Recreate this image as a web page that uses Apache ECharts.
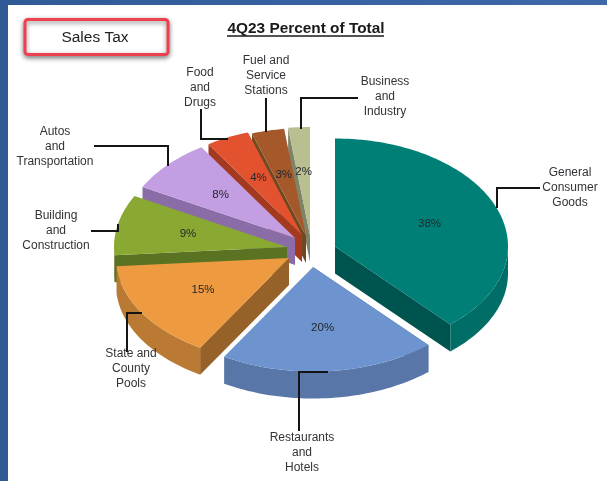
<!DOCTYPE html>
<html>
<head>
<meta charset="utf-8">
<style>html,body{margin:0;padding:0;background:#fff}#chart{width:607px;height:481px}</style>
<script src="https://cdn.jsdelivr.net/npm/echarts@6/dist/echarts.min.js"></script>
</head>
<body>
<div id="chart"></div>
<script>
// Sales tax share by business category, clockwise from twelve o'clock.
const categories = [
  'General\nConsumer\nGoods',
  'Restaurants\nand\nHotels',
  'State and\nCounty\nPools',
  'Building\nand\nConstruction',
  'Autos\nand\nTransportation',
  'Food\nand\nDrugs',
  'Fuel and\nService\nStations',
  'Business\nand\nIndustry'
];
const percents = [38, 20, 15, 9, 8, 4, 3, 2];

// Slice palette: lid, cut face, outer wall.
const lidColors  = ['#007f77', '#6d94cf', '#ee9a40', '#8aa932', '#c39ee2', '#e2522f', '#a5582a', '#b9bf90'];
const cutColors  = ['#00544f', '#566f9e', '#96622a', '#5a7322', '#8a6da6', '#a33a20', '#6f4a20', '#7f8468'];
const wallColors = ['#006d67', '#5876a8', '#bb7a33', '#5a7322', '#8a6da6', '#a33a20', '#6f4a20', '#7f8468'];

// Elliptical pie geometry in pixels; the near half of the rim is slightly flatter.
const RX = 173, RY_BACK = 108, RY_FRONT = 104.5, DEPTH = 27;
const explodedCentres = [[335, 246.5], [313, 267], [289, 258], [287, 247], [295, 238], [302, 235], [306, 236], [310, 235]];
const LABEL_RADIUS = 0.585;

// Category captions and their leader lines.
const captionCentres = [[570, 188], [302, 453], [131, 369], [56, 231], [55, 147], [200, 88], [266, 76], [385, 97]];
const leaders = [
  [[540, 188], [497, 188], [497, 208]],
  [[299, 431], [299, 372], [328, 372]],
  [[127, 352], [127, 313], [142, 313]],
  [[91, 231], [118, 231], [118, 224]],
  [[94, 146], [168, 146], [168, 166]],
  [[201, 109], [201, 139], [228, 139]],
  [[266, 98], [266, 132]],
  [[358, 98], [301, 98], [301, 129]]
];

const total = percents.reduce((a, b) => a + b, 0);
const startAngles = [];
percents.reduce((acc, v, i) => { startAngles[i] = acc / total * 360; return acc + v; }, 0);

function rimPoint(c, deg, drop) {
  const r = deg * Math.PI / 180;
  const cos = Math.cos(r);
  return [c[0] + RX * Math.sin(r), c[1] - (cos > 0 ? RY_BACK : RY_FRONT) * cos + (drop || 0)];
}

function arc(c, from, to, drop) {
  const pts = [];
  const n = Math.max(2, Math.ceil(Math.abs(to - from) / 1.5));
  for (let k = 0; k <= n; k++) pts.push(rimPoint(c, from + (to - from) * k / n, drop));
  return pts;
}

function renderSlice(params, api) {
  const i = api.value(0);
  const v = api.value(1);
  const c = explodedCentres[i];
  const a0 = startAngles[i];
  const a1 = a0 + v / total * 360;
  const kids = [];

  // Cut face along the leading edge, showing when the edge points towards the viewer.
  if (a0 > 90 || a1 > 90) {
    const lead = a0 > 90 ? a0 : a1;
    const p = rimPoint(c, lead);
    kids.push({
      type: 'polygon',
      shape: { points: [c, p, [p[0], p[1] + DEPTH], [c[0], c[1] + DEPTH]] },
      style: { fill: cutColors[i] }
    });
  }
  // Outer wall on the front half of the rim.
  const w0 = Math.max(a0, 90), w1 = Math.min(a1, 270);
  if (w1 > w0) {
    kids.push({
      type: 'polygon',
      shape: { points: arc(c, w0, w1, 0).concat(arc(c, w1, w0, DEPTH)) },
      style: { fill: wallColors[i] }
    });
  }
  // Lid.
  kids.push({
    type: 'polygon',
    shape: { points: [c].concat(arc(c, a0, a1, 0)) },
    style: { fill: lidColors[i] }
  });
  // Percent label.
  const mid = (a0 + a1) / 2;
  const rim = rimPoint([0, 0], mid);
  kids.push({
    type: 'text',
    x: c[0] + LABEL_RADIUS * rim[0],
    y: c[1] + LABEL_RADIUS * rim[1],
    style: {
      text: v + '%', fill: '#26262e',
      font: '11.5px "Liberation Sans", Arial, sans-serif',
      textAlign: 'center', textVerticalAlign: 'middle'
    }
  });
  return { type: 'group', children: kids };
}

function renderCaption(params, api) {
  const i = api.value(0);
  const c = captionCentres[i];
  return {
    type: 'group',
    children: [
      {
        type: 'polyline',
        shape: { points: leaders[i] },
        style: { stroke: '#141414', lineWidth: 2, fill: null }
      },
      {
        type: 'text',
        x: c[0], y: c[1],
        style: {
          text: categories[i], fill: '#333338',
          font: '12px "Liberation Sans", Arial, sans-serif',
          lineHeight: 15,
          textAlign: 'center', textVerticalAlign: 'middle'
        }
      }
    ]
  };
}

// Back slices are painted first so nearer ones overlap them.
const paintOrder = percents.map((v, i) => [i, v]).reverse();

const chart = echarts.init(document.getElementById('chart'), null, { renderer: 'canvas' });
chart.setOption({
  animation: false,
  backgroundColor: '#ffffff',
  title: {
    text: '4Q23 Percent of Total',
    left: 301, top: 16, textAlign: 'center',
    textStyle: { fontFamily: '"Liberation Sans", Arial, sans-serif', fontSize: 15.4, fontWeight: 'bold', color: '#1a1a1a' }
  },
  graphic: [
    {
      type: 'rect', z: 0, shape: { x: 0, y: 0, width: 607, height: 5 },
      style: { fill: new echarts.graphic.LinearGradient(0, 0, 1, 0, [{ offset: 0, color: '#2f5a96' }, { offset: 1, color: '#3d69ab' }]) }
    },
    { type: 'rect', z: 0, shape: { x: 0, y: 0, width: 8, height: 481 }, style: { fill: '#2f5a96' } },
    { type: 'line', z: 5, shape: { x1: 227, y1: 36, x2: 384, y2: 36 }, style: { stroke: '#1a1a1a', lineWidth: 1.5 } },
    {
      type: 'rect', z: 5,
      shape: { x: 25, y: 19.5, width: 143, height: 35, r: 3 },
      style: { fill: '#fff', stroke: '#ee404e', lineWidth: 3, shadowColor: 'rgba(0,0,0,0.45)', shadowBlur: 5, shadowOffsetY: 2 }
    },
    {
      type: 'text', z: 6, x: 95, y: 38,
      style: { text: 'Sales Tax', fill: '#222', font: '15.5px "Liberation Sans", Arial, sans-serif', textAlign: 'center', textVerticalAlign: 'middle' }
    }
  ],
  series: [
    { type: 'custom', coordinateSystem: 'none', z: 2, silent: true, data: paintOrder, renderItem: renderSlice },
    { type: 'custom', coordinateSystem: 'none', z: 3, silent: true, data: percents.map((v, i) => [i, v]), renderItem: renderCaption }
  ]
});
</script>
</body>
</html>
